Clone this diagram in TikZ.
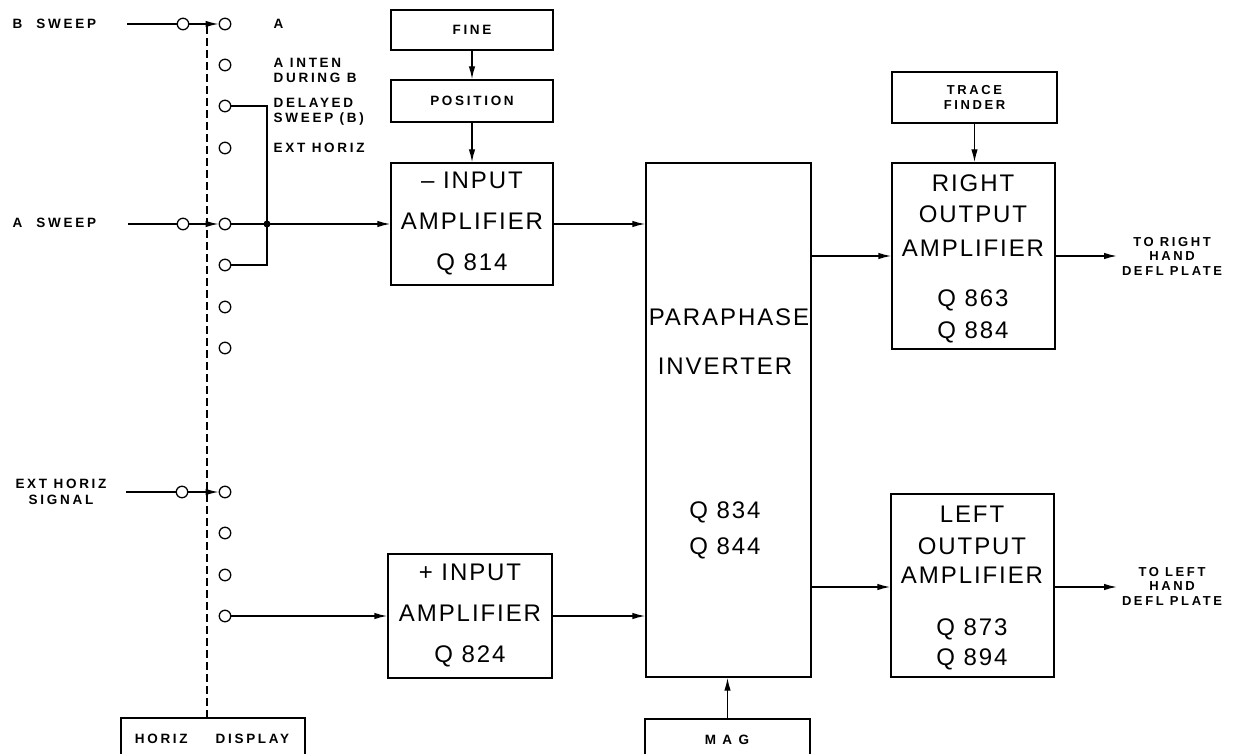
\documentclass[tikz,border=0pt]{standalone}
\usepackage{fontspec}
\setmainfont{Liberation Sans}
\newfontfamily\bigf{Liberation Sans}[LetterSpace=8]
\newfontfamily\smf{Liberation Sans}[LetterSpace=20]
\usetikzlibrary{arrows.meta}
\begin{document}
\begin{tikzpicture}[x=1pt,y=-1pt,line width=1.4pt,
  box/.style={draw,line width=1.4pt,inner sep=0pt},
  big/.style={font=\bigf\fontsize{24}{41}\selectfont,align=center,inner sep=0pt},
  sm/.style={font=\smf\bfseries\fontsize{13.5}{16}\selectfont,inner sep=0pt},
  smc/.style={font=\smf\bfseries\fontsize{13}{14.5}\selectfont,inner sep=0pt,align=center},
  sw/.style={circle,draw,fill=white,line width=1.3pt,minimum size=11.5pt,inner sep=0pt},
  arr/.style={-{Latex[length=13pt,width=6.5pt]}},
  dsh/.style={line width=1.2pt,dash pattern=on 8pt off 4pt}]
\useasboundingbox (0,0) rectangle (1238,754);
% ---------- left labels ----------
\node[sm,anchor=west] (lbs) at (12,24) {B\hspace{14pt}SWEEP};
\node[sm,anchor=west] (las) at (12,223) {A\hspace{14pt}SWEEP};
\node[sm,align=center] (lext) at (61,492) {EXT HORIZ\\SIGNAL};
\coordinate (bst) at (127,24);
\coordinate (ast) at (128,224);
\coordinate (est) at (126,492);
% ---------- switch ----------
\node[sw] (bin) at (183,24) {};
\node[sw] (ain) at (183,224) {};
\node[sw] (ein) at (182,492) {};
\foreach \n/\y in {1/24,2/65,3/106,4/148,5/224,6/265,7/307,8/348,9/492,10/533,11/575,12/616}
  \node[sw] (s\n) at (225,\y) {};
\node[sm,anchor=west] (la) at (273,24) {A};
\node[sm,anchor=west,align=left,font=\smf\bfseries\fontsize{13.5}{15}\selectfont] (lai) at (273,70) {A INTEN\\DURING B};
\node[sm,anchor=west,align=left,font=\smf\bfseries\fontsize{13.5}{15}\selectfont] (ldl) at (273,112) {DELAYED\\SWEEP (B)};
\node[sm,anchor=west] (lex) at (273,148) {EXT HORIZ};
% ---------- horiz display ----------
\node[box,minimum width=184pt,minimum height=60pt] (hd) at (213,748) {};
\node[sm] (hdt) at (212,739) {HORIZ\hspace{28pt}DISPLAY};
\coordinate (dtop) at (207,26);
\draw[dsh] (dtop) -- (dtop |- hd.north);
% ---------- connections of switch ----------
\draw (bst) -- (bin.west);
\draw[arr] (bin.east) -- (s1.west);
\draw (ast) -- (ain.west);
\draw[arr] (ain.east) -- (s5.west);
\draw (est) -- (ein.west);
\draw[arr] (ein.east) -- (s9.west);
\coordinate (j) at (267,224);
\draw (s3.east) -| (j) |- (s6.east);
\draw (s5.east) -- (j);
\fill (j) circle (3.5);
% ---------- blocks ----------
\node[box,minimum width=162pt,minimum height=40pt,sm] (fine) at (472,30) {FINE};
\node[box,minimum width=162pt,minimum height=42pt,sm] (pos) at (472,101) {POSITION};
\node[box,big,minimum width=162pt,minimum height=122pt] (inm) at (472,224) {– INPUT\\AMPLIFIER\\Q 814};
\node[box,big,minimum width=164pt,minimum height=124pt] (inp) at (470,616) {+ INPUT\\AMPLIFIER\\Q 824};
\node[box,minimum width=165pt,minimum height=514pt] (para) at (728.5,420) {};
\node[big] (pt1) at (729,317) {PARAPHASE};
\node[big] (pt2) at (725,366) {INVERTER};
\node[big] (pt3) at (725,512) {Q 834};
\node[big] (pt4) at (725,548) {Q 844};
\node[box,minimum width=165pt,minimum height=60pt] (mag) at (727.5,749) {};
\node[sm] (magt) at (727,740) {M A G};
\node[box,minimum width=165pt,minimum height=51pt,smc] (tf) at (974.5,97.5) {TRACE\\FINDER};
\node[box,minimum width=163pt,minimum height=186pt] (ra) at (973.5,256) {};
\node[big] (ra1) at (973,183) {RIGHT};
\node[big] (ra2) at (973,214) {OUTPUT};
\node[big] (ra3) at (973,248) {AMPLIFIER};
\node[big] (ra4) at (973,300) {Q 863};
\node[big] (ra5) at (973,332) {Q 884};
\node[box,minimum width=163pt,minimum height=183pt] (la) at (972.5,585.5) {};
\node[big] (la1) at (972,514) {LEFT};
\node[big] (la2) at (972,546) {OUTPUT};
\node[big] (la3) at (972,575) {AMPLIFIER};
\node[big] (la4) at (972,629) {Q 873};
\node[big] (la5) at (972,659) {Q 894};
\node[smc] (tor) at (1172,256) {TO RIGHT\\HAND\\DEFL PLATE};
\node[smc] (tol) at (1172,586) {TO LEFT\\HAND\\DEFL PLATE};
\coordinate (ro) at (1117,256);
\coordinate (lo) at (1117,587);
% ---------- connectors ----------
\draw[arr] (j) -- (inm.west);
\draw[arr] (s12.east) -- (inp.west);
\draw[arr] (fine.south) -- (pos.north);
\draw[arr] (pos.south) -- (inm.north);
\draw[arr] (inm.east) -- (para.west |- inm.east);
\draw[arr] (inp.east) -- (para.west |- inp.east);
\draw[arr] (mag.north) -- (mag.north |- para.south);
\draw[arr] (tf.south) -- (tf.south |- ra.north);
\draw[arr] (para.east |- ra.west) -- (ra.west);
\draw[arr] (para.east |- lo) -- (la.west |- lo);
\draw[arr] (ra.east) -- (ro);
\draw[arr] (la.east |- lo) -- (lo);
\end{tikzpicture}
\end{document}
